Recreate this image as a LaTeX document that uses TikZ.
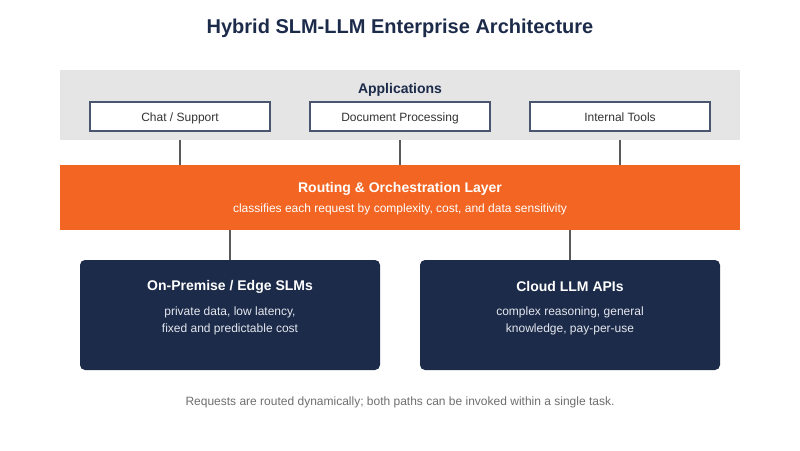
\documentclass[tikz,border=0pt]{standalone}
\usepackage{fontspec}
\setmainfont{Liberation Sans}
\definecolor{navy}{HTML}{1C2B4A}
\definecolor{boxline}{HTML}{4A5570}
\definecolor{panel}{HTML}{E5E5E5}
\definecolor{orng}{HTML}{F26522}
\definecolor{conn}{HTML}{5A5A5A}
\definecolor{foot}{HTML}{6E6E6E}
\definecolor{lighttext}{HTML}{E4E7EE}
\begin{document}
\begin{tikzpicture}[x=1pt,y=-1pt,
  appbox/.style={draw=boxline,line width=1.6pt,fill=white,minimum width=180pt,minimum height=29pt,inner sep=0pt,font=\fontsize{12}{14}\selectfont,text=black!80,text height=9pt,text depth=-1pt},
  darkbox/.style={fill=navy,rounded corners=5pt,minimum width=300pt,minimum height=110pt,inner sep=0pt},
  conline/.style={draw=conn,line width=1.6pt},
  hd/.style={font=\fontsize{14}{16}\selectfont\bfseries},
  sub/.style={font=\fontsize{12}{17}\selectfont,align=center}]
\useasboundingbox (0,0) rectangle (800,450);
\node[font=\fontsize{20}{22}\selectfont\bfseries,text=navy] (title) at (400,28.5) {Hybrid SLM-LLM Enterprise Architecture};
\node[fill=panel,minimum width=680pt,minimum height=70pt,inner sep=0pt] (panel) at (400,105) {};
\node[hd,text=navy] (apps) at (400,89.5) {Applications};
\node[appbox] (chat) at (180,116.5) {Chat / Support};
\node[appbox] (doc) at (400,116.5) {Document Processing};
\node[appbox] (tools) at (620,116.5) {Internal Tools};
\node[fill=orng,minimum width=680pt,minimum height=65pt,inner sep=0pt] (route) at (400,197.5) {};
\node[hd,text=white] (rt) at (400,188.5) {Routing \& Orchestration Layer};
\node[sub,text=white] (rs) at (400,209.5) {classifies each request by complexity, cost, and data sensitivity};
\node[darkbox] (slm) at (230,315) {};
\node[darkbox] (llm) at (570,315) {};
\node[hd,text=white] (slmt) at (230,286.5) {On-Premise / Edge SLMs};
\node[sub,text=lighttext] (slmb) at (230,321) {private data, low latency,\\fixed and predictable cost};
\node[hd,text=white] (llmt) at (570,286.5) {Cloud LLM APIs};
\node[sub,text=lighttext] (llmb) at (570,321) {complex reasoning, general\\knowledge, pay-per-use};
\node[font=\fontsize{12}{14}\selectfont,text=foot] (footer) at (400,402.5) {Requests are routed dynamically; both paths can be invoked within a single task.};
\foreach \a in {chat,doc,tools}{
  \draw[conline] (\a.south |- panel.south) -- (\a.south |- route.north);
}
\draw[conline] (route.south -| slm.north) -- (slm.north);
\draw[conline] (route.south -| llm.north) -- (llm.north);
\end{tikzpicture}
\end{document}
